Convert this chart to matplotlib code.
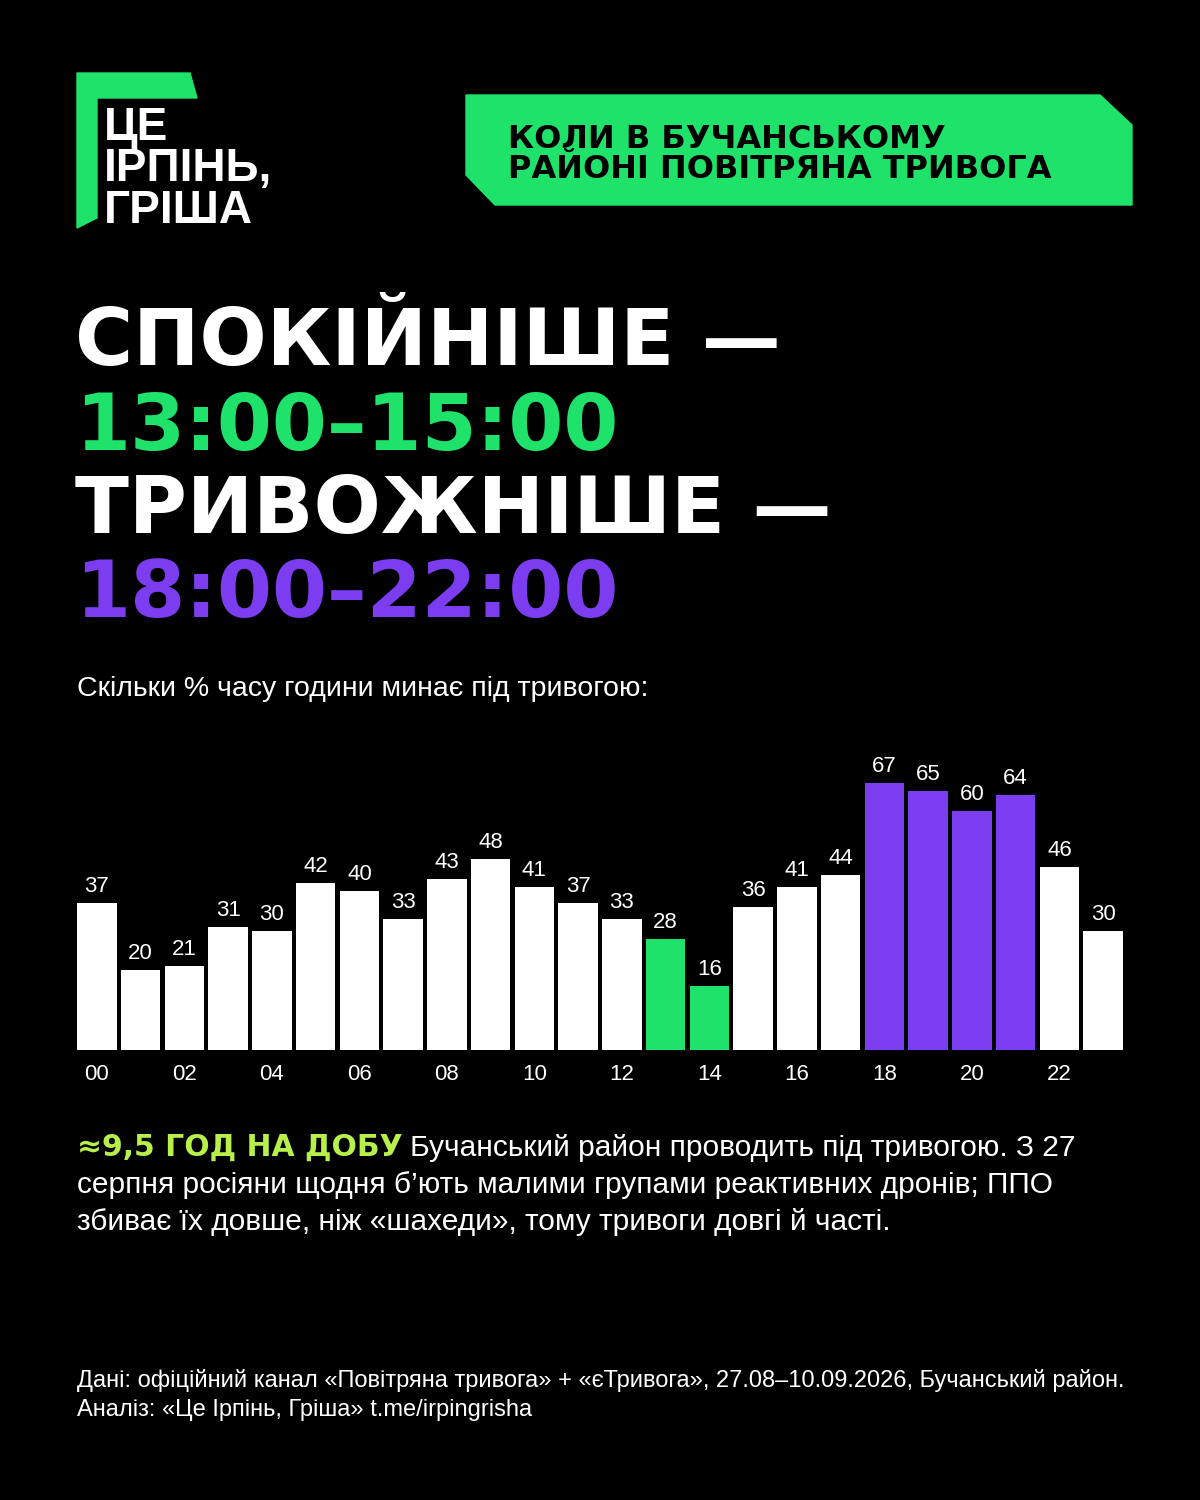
import matplotlib
matplotlib.use("Agg")
import matplotlib.pyplot as plt
from matplotlib.patches import Polygon

hours = ["00","01","02","03","04","05","06","07","08","09","10","11",
         "12","13","14","15","16","17","18","19","20","21","22","23"]
values = [37,20,21,31,30,42,40,33,43,48,41,37,33,28,16,36,41,44,67,65,60,64,46,30]
calm_hours = ["13","14"]
alarm_hours = ["18","19","20","21"]

GREEN = "#1EE26A"
PURPLE = "#7C3CF0"
LIME = "#B8F04A"
BG = "#000000"
FONT = ["Liberation Sans", "DejaVu Sans"]
WIDE = ["DejaVu Sans"]

W, H = 1200, 1500
fig = plt.figure(figsize=(12, 15), dpi=100, facecolor=BG)

def fx(x): return x / W
def fy(y): return 1 - y / H
def T(x, y, s, **kw):
    kw.setdefault("family", FONT)
    return fig.text(fx(x), fy(y), s, **kw)

# logo
logo = Polygon([(fx(77), fy(73)), (fx(190), fy(73)), (fx(197), fy(98)), (fx(97), fy(98)),
                (fx(97), fy(218)), (fx(77), fy(228))], closed=True, color=GREEN,
               transform=fig.transFigure)
fig.add_artist(logo)
T(104, 106, "ЦЕ\nІРПІНЬ,\nГРІША", color="white", fontsize=33, fontweight="bold",
  va="top", linespacing=0.92)

# header box
box = Polygon([(fx(466), fy(95)), (fx(1100), fy(95)), (fx(1132), fy(125)), (fx(1132), fy(205)),
               (fx(495), fy(205)), (fx(466), fy(175))], closed=True, color=GREEN,
              transform=fig.transFigure)
fig.add_artist(box)
T(508, 148, "КОЛИ В БУЧАНСЬКОМУ", color="black", fontsize=23, fontweight="bold", va="baseline", family=WIDE)
T(508, 178, "РАЙОНІ ПОВІТРЯНА ТРИВОГА", color="black", fontsize=23, fontweight="bold", va="baseline", family=WIDE)

# headline
for y, s, c in [(365, "СПОКІЙНІШЕ —", "white"), (450, "13:00–15:00", GREEN),
                (533, "ТРИВОЖНІШЕ —", "white"), (617, "18:00–22:00", PURPLE)]:
    T(75, y, s, color=c, fontsize=57, fontweight="bold", va="baseline", family=WIDE)

T(77, 696, "Скільки % часу години минає під тривогою:", color="white", fontsize=20.5, va="baseline")

# bar chart
ax = fig.add_axes([fx(75), fy(1050), fx(1125) - fx(75), 300 / H])
ax.set_facecolor(BG)
colors = [GREEN if h in calm_hours else PURPLE if h in alarm_hours else "white" for h in hours]
xs = list(range(len(hours)))
ax.bar(xs, values, width=0.9, color=colors)
for x, v in zip(xs, values):
    ax.text(x, v + 1.5, str(v), ha="center", va="bottom", color="white", fontsize=16, family=FONT)
ax.set_xlim(-0.5, len(hours) - 0.5)
ax.set_ylim(0, 75.4)
ax.set_xticks(xs[::2])
ax.set_xticklabels(hours[::2], color="white", fontsize=16, family=FONT)
ax.tick_params(axis="x", length=0, pad=10)
ax.set_yticks([])
for s in ax.spines.values():
    s.set_visible(False)

# body text
fig.canvas.draw()
r = fig.canvas.get_renderer()
t1 = T(77, 1156, "≈9,5 ГОД НА ДОБУ", color=LIME, fontsize=21.5, fontweight="bold", va="baseline", family=WIDE)
bb = t1.get_window_extent(renderer=r)
fig.text(bb.x1 / W + 0.006, fy(1156), "Бучанський район проводить під тривогою. З 27",
         color="white", fontsize=21.5, va="baseline", family=FONT)
T(77, 1193, "серпня росіяни щодня б’ють малими групами реактивних дронів; ППО",
  color="white", fontsize=21.5, va="baseline")
T(77, 1230, "збиває їх довше, ніж «шахеди», тому тривоги довгі й часті.",
  color="white", fontsize=21.5, va="baseline")

T(77, 1387, "Дані: офіційний канал «Повітряна тривога» + «єТривога», 27.08–10.09.2026, Бучанський район.",
  color="white", fontsize=17, va="baseline")
T(77, 1416, "Аналіз: «Це Ірпінь, Гріша» t.me/irpingrisha", color="white", fontsize=17, va="baseline")

fig.savefig("out.png", dpi=100, facecolor=BG)
